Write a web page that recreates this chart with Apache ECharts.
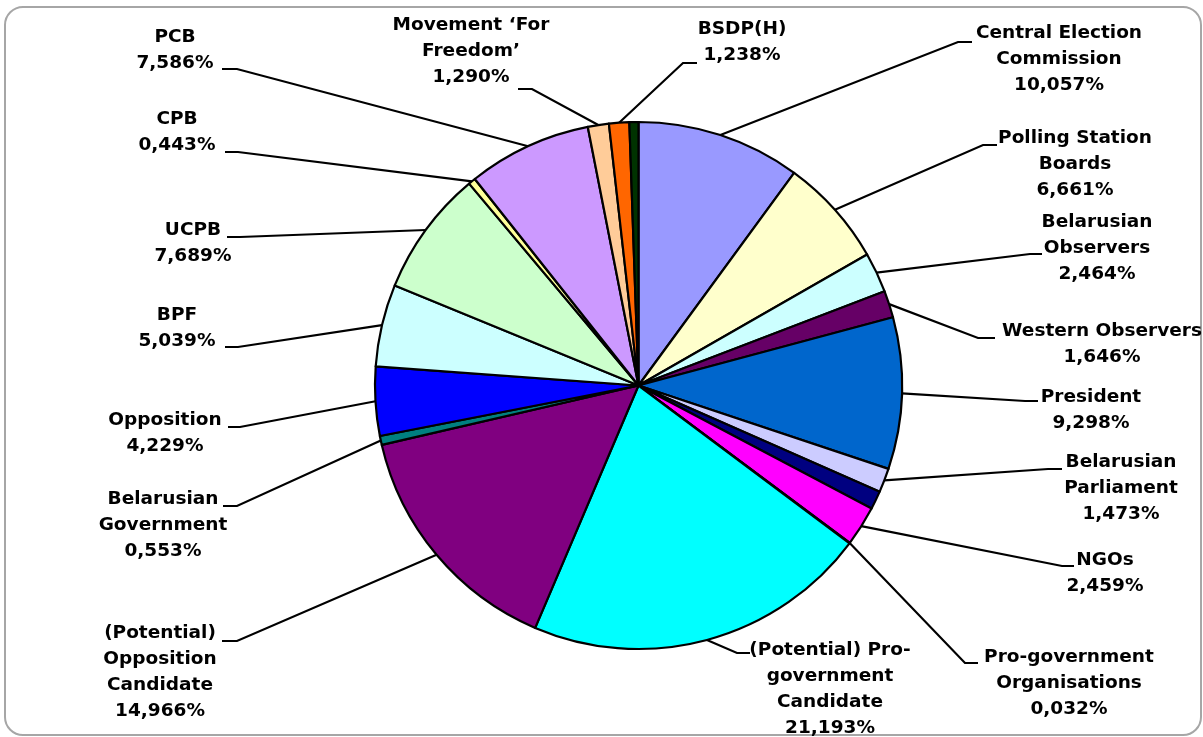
<!DOCTYPE html>
<html>
<head>
<meta charset="utf-8">
<script src="https://cdn.jsdelivr.net/npm/echarts@6/dist/echarts.min.js"></script>
<style>
  html, body { margin: 0; padding: 0; background: #fff; }
  #chart { width: 1203px; height: 737px; }
</style>
</head>
<body>
<div id="chart"></div>
<script>
// slice names (line breaks as in the original labels), clockwise from 12 o'clock
const categories = [
  'Central Election\nCommission',
  'Polling Station\nBoards',
  'Belarusian\nObservers',
  'Western Observers',
  'President',
  'Belarusian\nParliament',
  '',
  'NGOs',
  'Pro-government\nOrganisations',
  '(Potential) Pro-\ngovernment\nCandidate',
  '(Potential)\nOpposition\nCandidate',
  'Belarusian\nGovernment',
  'Opposition',
  'BPF',
  'UCPB',
  'CPB',
  'PCB',
  'Movement \u2018For\nFreedom\u2019',
  'BSDP(H)',
  ''
];
// share in %
const shares = [
  10.057, 6.661, 2.464, 1.646, 9.298, 1.473, 1.13, 2.459, 0.032, 21.193,
  14.966, 0.553, 4.229, 5.039, 7.689, 0.443, 7.586, 1.290, 1.238, 0.554
];
const colors = [
  '#9999FF', '#FFFFCC', '#CCFFFF', '#660066', '#0066CC', '#CCCCFF', '#000080', '#FF00FF', '#FFFF00', '#00FFFF',
  '#800080', '#008080', '#0000FF', '#CCFFFF', '#CCFFCC', '#FFFF99', '#CC99FF', '#FFCC99', '#FF6600', '#003300'
];

// label placement: [text centre x, first line centre y, bend x, anchor x, leader y]
const labelPos = [
  [1059, 33, 958, 972, 42],
  [1075, 138, 983, 997, 145],
  [1097, 222, 1030, 1042, 254],
  [1102, 331, 978, 995, 338],
  [1091, 397, 1025, 1038, 401],
  [1121, 462, 1048, 1062, 469],
  null,
  [1105, 560, 1062, 1074, 566],
  [1069, 657, 965, 978, 663],
  [830, 650, 737, 750, 653],
  [160, 633, 237, 222, 641],
  [163, 499, 237, 223, 506],
  [165, 420, 240, 228, 427],
  [177, 315, 238, 225, 347],
  [193, 230, 240, 227, 237],
  [177, 119, 238, 225, 152],
  [175, 37, 237, 222, 69],
  [471, 25, 532, 518, 89],
  [742, 29, 683, 697, 63],
  null
];

const LINE_H = 26;

const chart = echarts.init(document.getElementById('chart'));

const data = shares.map((v, i) => ({
  name: categories[i],
  value: v,
  itemStyle: { color: colors[i] },
  label: { show: !!labelPos[i] },
  labelLine: { show: !!labelPos[i] }
}));

chart.setOption({
  animation: false,
  graphic: [{
    type: 'rect',
    z: -1,
    shape: { x: 5, y: 7, width: 1196, height: 728, r: 18 },
    style: { fill: 'none', stroke: '#A6A6A6', lineWidth: 2 }
  }],
  series: [{
    type: 'pie',
    center: [638.5, 385.5],
    radius: 263.5,
    startAngle: 90,
    clockwise: true,
    avoidLabelOverlap: false,
    data: data,
    itemStyle: { borderColor: '#000', borderWidth: 2.2 },
    label: {
      position: 'outside',
      color: '#000',
      fontFamily: 'DejaVu Sans',
      fontWeight: 'bold',
      fontSize: 18.5,
      lineHeight: LINE_H,
      align: 'center',
      formatter: p => p.name + '\n' + p.value.toFixed(3).replace('.', ',') + '%'
    },
    labelLine: {
      show: true,
      length: 20,
      length2: 20,
      lineStyle: { color: '#000', width: 2.2 }
    },
    labelLayout: function (params) {
      const pos = labelPos[params.dataIndex];
      if (!pos || !params.labelLinePoints) return {};
      const start = params.labelLinePoints[0];
      return {
        x: pos[0],
        y: pos[1] - LINE_H / 2,
        align: 'center',
        verticalAlign: 'top',
        labelLinePoints: [
          [start[0], start[1]],
          [pos[2], pos[4]],
          [pos[3], pos[4]]
        ]
      };
    }
  }]
});
</script>
</body>
</html>
